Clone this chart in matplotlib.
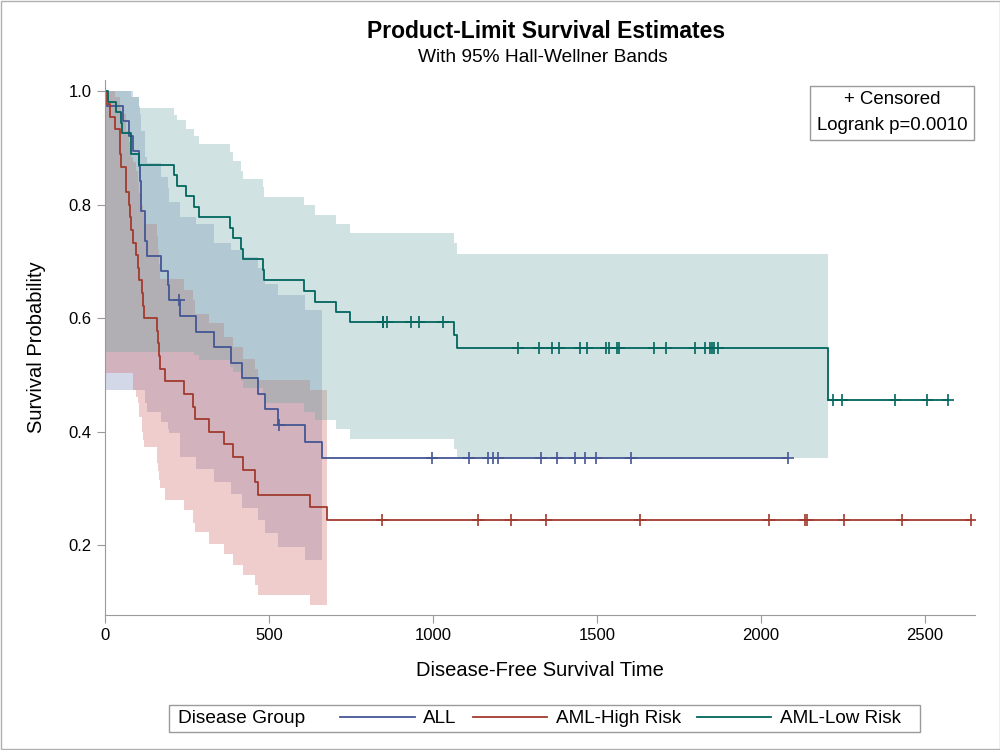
import numpy as np
import matplotlib
matplotlib.use("Agg")
import matplotlib.pyplot as plt
from matplotlib.patches import Rectangle

plt.rcParams['font.family'] = ['Liberation Sans', 'DejaVu Sans']

# Kaplan-Meier steps (time, survival) and censored times per group
all_t = [0, 1, 55, 74, 86, 104, 107, 109, 110, 122, 129, 172, 192, 194,
         230, 276, 332, 383, 418, 466, 487, 526, 609, 662]
all_s = [1.0, 0.9737, 0.9474, 0.9211, 0.8947, 0.8684, 0.8421, 0.8158, 0.7895,
         0.7368, 0.7105, 0.6842, 0.6579, 0.6316, 0.6041, 0.5767, 0.5492,
         0.5217, 0.4943, 0.4668, 0.4394, 0.4119, 0.3825, 0.3531]
all_cens = [226, 530, 996, 1111, 1167, 1182, 1199, 1330, 1377, 1433, 1462,
            1496, 1602, 2081]

high_t = [0, 2, 16, 32, 47, 48, 63, 64, 74, 76, 80, 84, 93, 100, 105, 113,
          115, 120, 157, 162, 164, 168, 183, 242, 268, 273, 318, 363, 390,
          422, 456, 467, 625, 677]
high_s = [1.0, 0.9778, 0.9556, 0.9333, 0.8889, 0.8667, 0.8444, 0.8222, 0.8,
          0.7778, 0.7556, 0.7333, 0.7111, 0.6889, 0.6667, 0.6444, 0.6222,
          0.6, 0.5778, 0.5556, 0.5333, 0.5111, 0.4889, 0.4667, 0.4444,
          0.4222, 0.4, 0.3778, 0.3556, 0.3333, 0.3111, 0.2889, 0.2667, 0.2444]
high_cens = [845, 1136, 1238, 1345, 1631, 2024, 2133, 2140, 2252, 2430, 2640]

low_t = [0, 10, 35, 48, 53, 79, 80, 105, 211, 219, 248, 272, 288, 381, 390,
         414, 421, 481, 486, 606, 641, 704, 748, 1063, 1074, 2204]
low_s = [1.0, 0.9815, 0.963, 0.9444, 0.9259, 0.9074, 0.8889, 0.8704, 0.8519,
         0.8333, 0.8148, 0.7963, 0.7778, 0.7593, 0.7407, 0.7222, 0.7037,
         0.6852, 0.6667, 0.6481, 0.6296, 0.6111, 0.5926, 0.5698, 0.547, 0.4558]
low_cens = [847, 848, 860, 932, 957, 1030, 1258, 1324, 1363, 1384, 1447, 1470,
            1527, 1535, 1562, 1568, 1674, 1709, 1799, 1829, 1843, 1850, 1857,
            1870, 2218, 2246, 2409, 2506, 2569]

# Hall-Wellner band edges (step breakpoints)
all_band_t = [0, 86, 104, 107, 109, 110, 122, 129, 172, 192, 194, 230, 276,
              332, 383, 418, 466, 487, 526, 609, 662]
all_band_hi = [1.0, 0.99, 0.975, 0.96, 0.945, 0.93, 0.885, 0.873, 0.849, 0.83,
               0.805, 0.778, 0.767, 0.732, 0.72, 0.708, 0.688, 0.661, 0.641,
               0.614, 0.614]
all_band_lo = [0.473, 0.473, 0.473, 0.473, 0.473, 0.473, 0.45, 0.435, 0.417,
               0.405, 0.397, 0.356, 0.335, 0.312, 0.291, 0.265, 0.244, 0.221,
               0.197, 0.174, 0.174]

high_band_t = [0, 32, 47, 48, 63, 64, 74, 76, 80, 84, 93, 100, 105, 113, 115,
               120, 157, 162, 164, 168, 183, 242, 268, 273, 318, 363, 390, 422,
               456, 467, 625, 677]
high_band_hi = [1.0, 0.99, 0.97, 0.96, 0.94, 0.93, 0.91, 0.90, 0.885, 0.875,
                0.86, 0.84, 0.82, 0.80, 0.785, 0.767, 0.745, 0.72, 0.695, 0.67,
                0.67, 0.649, 0.632, 0.608, 0.591, 0.567, 0.549, 0.529, 0.511,
                0.491, 0.474, 0.474]
high_band_lo = [0.503, 0.503, 0.503, 0.503, 0.503, 0.503, 0.503, 0.503, 0.503,
                0.473, 0.461, 0.45, 0.426, 0.40, 0.385, 0.373, 0.345, 0.33,
                0.315, 0.30, 0.279, 0.262, 0.24, 0.223, 0.203, 0.185, 0.165,
                0.147, 0.13, 0.112, 0.094, 0.094]

low_band_t = [0, 79, 105, 211, 219, 248, 272, 288, 381, 390, 414, 421, 481,
              486, 606, 641, 704, 748, 1063, 1074, 2204]
low_band_hi = [1.0, 0.99, 0.97, 0.958, 0.949, 0.934, 0.921, 0.907, 0.893,
               0.877, 0.86, 0.846, 0.831, 0.814, 0.799, 0.782, 0.767, 0.75,
               0.732, 0.713, 0.713]
low_band_lo = [0.541, 0.541, 0.541, 0.541, 0.541, 0.541, 0.535, 0.526, 0.515,
               0.505, 0.49, 0.478, 0.465, 0.45, 0.435, 0.42, 0.404, 0.388,
               0.37, 0.353, 0.353]

groups = [
    ("ALL", all_t, all_s, all_cens, all_band_t, all_band_lo, all_band_hi,
     "#445694", "#6F7EB3"),
    ("AML-High Risk", high_t, high_s, high_cens, high_band_t, high_band_lo,
     high_band_hi, "#A23A2E", "#D05B5B"),
    ("AML-Low Risk", low_t, low_s, low_cens, low_band_t, low_band_lo,
     low_band_hi, "#01665E", "#66A5A0"),
]

fig = plt.figure(figsize=(10, 7.5), dpi=100)
ax = fig.add_axes([0.105, 0.18, 0.87, 0.7133])

for name, t, s, cens, bt, blo, bhi, lc, fc in groups:
    ax.fill_between(bt, blo, bhi, step='post', color=fc, alpha=0.3, lw=0)

handles = []
for name, t, s, cens, bt, blo, bhi, lc, fc in groups:
    t = np.array(t)
    s = np.array(s)
    end = max(t[-1], max(cens))
    xs = np.append(t, end)
    ys = np.append(s, s[-1])
    h, = ax.step(xs, ys, where='post', color=lc, lw=1.3, label=name)
    handles.append(h)
    cy = s[np.searchsorted(t, cens, side='right') - 1]
    ax.plot(cens, cy, ls='none', marker='+', ms=9, mew=1.2, color=lc)

ax.set_xlim(0, 2652)
ax.set_ylim(0.077, 1.02)
ax.set_xticks([0, 500, 1000, 1500, 2000, 2500])
ax.set_yticks([0.2, 0.4, 0.6, 0.8, 1.0])
ax.set_yticklabels(["0.2", "0.4", "0.6", "0.8", "1.0"])
for sp in ['top', 'right']:
    ax.spines[sp].set_visible(False)
for sp in ['left', 'bottom']:
    ax.spines[sp].set_color('#9a9a9a')
ax.tick_params(colors='#9a9a9a', labelcolor='black', labelsize=12, length=6)
ax.set_xlabel("Disease-Free Survival Time", fontsize=14.5, labelpad=13)
ax.set_ylabel("Survival Probability", fontsize=14.5, labelpad=16)

fig.text(0.546, 0.958, "Product-Limit Survival Estimates", ha='center',
         va='center', fontsize=16.5, fontweight='bold')
fig.text(0.543, 0.923, "With 95% Hall-Wellner Bands", ha='center',
         va='center', fontsize=13.8)

# inset box
fig.add_artist(Rectangle((0.81, 0.8133), 0.164, 0.072, transform=fig.transFigure,
                         fill=False, edgecolor='#9a9a9a', lw=1))
fig.text(0.892, 0.867, "+ Censored", ha='center', va='center', fontsize=13.4)
fig.text(0.892, 0.832, "Logrank p=0.0010", ha='center', va='center', fontsize=13.4)

# bottom legend
fig.add_artist(Rectangle((0.169, 0.024), 0.751, 0.036, transform=fig.transFigure,
                         fill=False, edgecolor='#9a9a9a', lw=1))
fig.text(0.178, 0.042, "Disease Group", ha='left', va='center', fontsize=13.8)
fig.legend(handles=handles, loc='center left', bbox_to_anchor=(0.340, 0.042),
           ncol=3, frameon=False, fontsize=13.6, handlelength=3.95,
           handletextpad=0.45, columnspacing=0.85, borderpad=0, borderaxespad=0)

fig.add_artist(Rectangle((0.0005, 0.0007), 0.999, 0.9986, transform=fig.transFigure,
                         fill=False, edgecolor='#b0b0b0', lw=1))

fig.savefig("out.png", dpi=100)
